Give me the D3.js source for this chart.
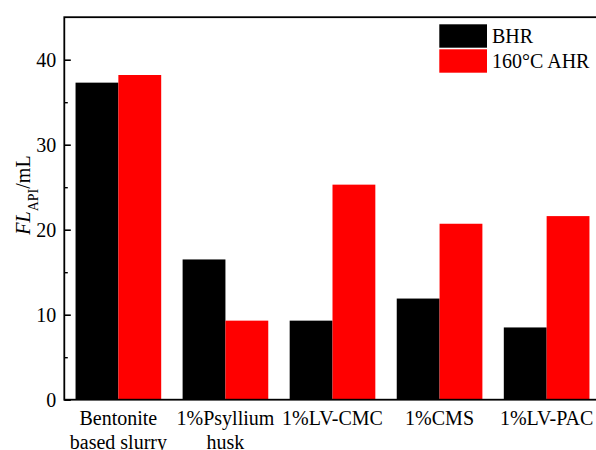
<!DOCTYPE html>
<html>
<head>
<meta charset="utf-8">
<script src="https://cdn.jsdelivr.net/npm/d3@7"></script>
<style>
  html, body { margin: 0; padding: 0; background: #fff; }
  svg { display: block; }
  svg text { font-family: "Liberation Serif", "Times New Roman", serif; }
</style>
</head>
<body>
<svg id="chart" width="596" height="450"></svg>
<script>
// Filtration loss (API) before and after hot rolling, per slurry formulation
const categories = ["Bentonite\nbased slurry", "1%Psyllium\nhusk", "1%LV-CMC", "1%CMS", "1%LV-PAC"];
const seriesNames = ["BHR", "160°C AHR"];
const bhrValues = [37.3, 16.5, 9.3, 11.9, 8.5];
const ahrValues = [38.2, 9.3, 25.3, 20.7, 21.6];
const majorTicks = [0, 10, 20, 30, 40];
const minorTicks = [5, 15, 25, 35];
const seriesColors = ["#000000", "#ff0000"];

const serif = "Liberation Serif";
const svg = d3.select("#chart");
const plotLeft = 64.3, plotRight = 600.7, plotTop = 17.2, plotBottom = 399.7;

const y = d3.scaleLinear().domain([0, 45]).range([plotBottom, plotTop]);
const x = d3.scaleBand().domain(categories).range([plotLeft, plotRight])
  .paddingInner(0.2).paddingOuter(0.105);
const xs = d3.scaleBand().domain(seriesNames).range([0, x.bandwidth()]);
const color = d3.scaleOrdinal().domain(seriesNames).range(seriesColors);

const rows = categories.map((c, i) => ({ cat: c, vals: [bhrValues[i], ahrValues[i]] }));

// bars
const groups = svg.append("g").selectAll("g").data(rows).join("g")
  .attr("transform", d => `translate(${x(d.cat)},0)`);
groups.selectAll("rect")
  .data(d => d.vals.map((v, j) => ({ key: seriesNames[j], v })))
  .join("rect")
  .attr("x", d => xs(d.key))
  .attr("width", xs.bandwidth())
  .attr("y", d => y(d.v))
  .attr("height", d => y(0) - y(d.v))
  .attr("fill", d => color(d.key));

// left axis: major ticks pointing inward
const yAxis = svg.append("g").attr("transform", `translate(${plotLeft},0)`)
  .call(d3.axisLeft(y).tickValues(majorTicks).tickSizeInner(-6.5).tickSizeOuter(0).tickPadding(8));
yAxis.attr("font-family", serif);
yAxis.select(".domain").remove();
yAxis.selectAll("line").attr("stroke", "#000").attr("stroke-width", 1.6);
yAxis.selectAll("text").attr("font-size", 20).attr("fill", "#000")
  .style("font-family", serif);

// minor ticks
const yMinor = svg.append("g").attr("transform", `translate(${plotLeft},0)`)
  .call(d3.axisLeft(y).tickValues(minorTicks).tickSizeInner(-3.5).tickSizeOuter(0).tickFormat(""));
yMinor.select(".domain").remove();
yMinor.selectAll("line").attr("stroke", "#000").attr("stroke-width", 1.4);

// frame
svg.append("rect")
  .attr("x", plotLeft).attr("y", plotTop)
  .attr("width", plotRight - plotLeft).attr("height", plotBottom - plotTop)
  .attr("fill", "none").attr("stroke", "#000").attr("stroke-width", 1.8);

// category labels (multi-line)
svg.append("g").selectAll("text").data(categories).join("text")
  .attr("x", d => x(d) + x.bandwidth() / 2)
  .attr("y", 424.5)
  .attr("text-anchor", "middle")
  .attr("font-size", 20)
  .attr("fill", "#000")
  .style("font-family", serif)
  .each(function (d) {
    const t = d3.select(this);
    d.split("\n").forEach((line, i) => {
      t.append("tspan").attr("x", x(d) + x.bandwidth() / 2)
        .attr("dy", i === 0 ? 0 : 24).text(line);
    });
  });

// y-axis title
const yTitle = svg.append("text")
  .attr("transform", "translate(29.5,195) rotate(-90)")
  .attr("text-anchor", "middle")
  .attr("font-size", 20)
  .attr("fill", "#000")
  .style("font-family", serif);
yTitle.append("tspan").attr("font-style", "italic").text("FL");
yTitle.append("tspan").attr("font-size", 14).attr("baseline-shift", "sub").text("API");
yTitle.append("tspan").text("/mL");

// legend
const legend = svg.append("g");
seriesNames.forEach((name, i) => {
  const ly = 24.3 + i * 25;
  legend.append("rect")
    .attr("x", 439.3).attr("y", ly)
    .attr("width", 47.7).attr("height", 23.4)
    .attr("fill", color(name));
  legend.append("text")
    .attr("x", 492).attr("y", ly + 18.5)
    .attr("font-size", 20).attr("fill", "#000")
    .style("font-family", serif)
    .text(name);
});
</script>
</body>
</html>
